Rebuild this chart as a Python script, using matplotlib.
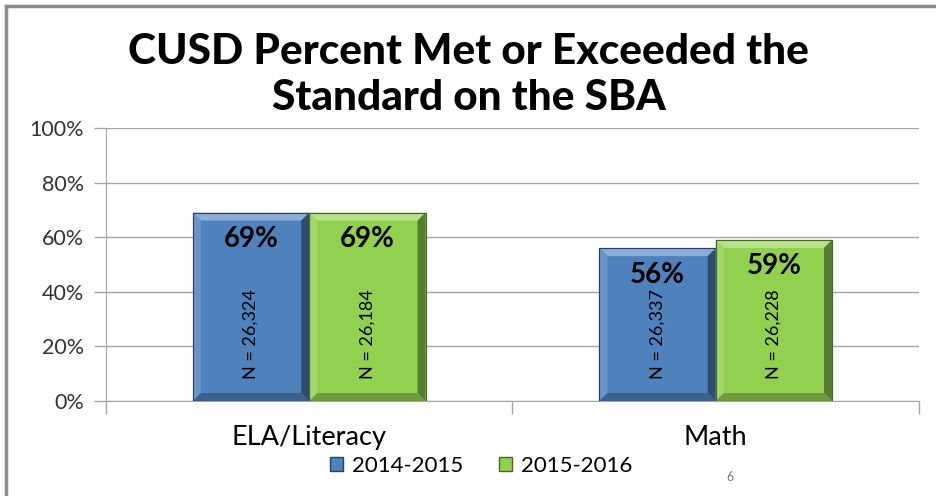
import numpy as np
import matplotlib
matplotlib.use("Agg")
import matplotlib.pyplot as plt
from matplotlib.patches import Polygon, Patch
from matplotlib.lines import Line2D
from matplotlib.colors import to_rgb

# data
categories = ["ELA/Literacy", "Math"]
years = ["2014-2015", "2015-2016"]
pct_2015 = [69, 56]
pct_2016 = [69, 59]
n_2015 = ["26,324", "26,337"]
n_2016 = ["26,184", "26,228"]
y_ticks = [0, 20, 40, 60, 80, 100]

colors = ["#4F81BD", "#92D050"]
font = ["Lato", "DejaVu Sans"]
plt.rcParams["font.family"] = font


def mix(c, other, t):
    c = np.array(to_rgb(c))
    o = np.array(to_rgb(other))
    return tuple(c * (1 - t) + o * t)


fig = plt.figure(figsize=(9.37, 4.96), dpi=100)
W, H = 937, 496
ax = fig.add_axes([106 / W, (H - 401) / H, 813 / W, 273 / H])

x = np.arange(len(categories))
bw = 0.286
series = [pct_2015, pct_2016]
labels_n = [n_2015, n_2016]

ax.set_xlim(-0.5, 1.5)
ax.set_ylim(0, 100)

all_bars = []
for i, vals in enumerate(series):
    bars = ax.bar(x + (i - 0.5) * bw, vals, bw, color=colors[i],
                  edgecolor=mix(colors[i], "black", 0.45), linewidth=0.8,
                  zorder=3, label=years[i])
    all_bars.append(bars)

# bevel edges computed from each bar's own extent
fig.canvas.draw()
to_disp = ax.transData
to_data = ax.transData.inverted()
bev = 8
for i, bars in enumerate(all_bars):
    c = colors[i]
    for b in bars:
        x0, y0 = b.get_x(), b.get_y()
        x1, y1 = x0 + b.get_width(), y0 + b.get_height()
        (dx0, dy0), (dx1, dy1) = to_disp.transform([(x0, y0), (x1, y1)])
        ix0, iy0, ix1, iy1 = dx0 + bev, dy0 + bev, dx1 - bev, dy1 - bev
        sides = [
            ([(dx0, dy1), (dx1, dy1), (ix1, iy1), (ix0, iy1)], mix(c, "white", 0.35)),
            ([(dx0, dy0), (dx0, dy1), (ix0, iy1), (ix0, iy0)], mix(c, "white", 0.15)),
            ([(dx1, dy0), (dx1, dy1), (ix1, iy1), (ix1, iy0)], mix(c, "black", 0.40)),
            ([(dx0, dy0), (dx1, dy0), (ix1, iy0), (ix0, iy0)], mix(c, "black", 0.25)),
        ]
        for pts, col in sides:
            ax.add_patch(Polygon(to_data.transform(pts), closed=True,
                                 facecolor=col, edgecolor="none", zorder=4))
        ax.add_patch(Polygon([(x0, y0), (x1, y0), (x1, y1), (x0, y1)], closed=True,
                             facecolor="none", edgecolor=mix(c, "black", 0.5),
                             linewidth=0.8, zorder=5))

# labels
for i, bars in enumerate(all_bars):
    for j, b in enumerate(bars):
        cx = b.get_x() + b.get_width() / 2
        ax.annotate(f"{series[i][j]}%", (cx, b.get_height()), xytext=(0, -19),
                    textcoords="offset points", ha="center", va="center",
                    fontsize=20, fontweight="bold", color="black", zorder=6)
        ax.text(cx, 24.5, f"N = {labels_n[i][j]}", rotation=90, ha="center",
                va="center", fontsize=13, color="black", zorder=6)

# axes styling
grid_c = "#A6A6A6"
ax.set_yticks(y_ticks)
ax.set_yticklabels([f"{v}%" for v in y_ticks], fontsize=15.5, color="#333333")
ax.yaxis.grid(True, color=grid_c, linewidth=1, zorder=0)
ax.set_axisbelow(True)
ax.set_xticks([-0.5, 0.5, 1.5])
ax.set_xticklabels([])
ax.set_xticks(x, minor=True)
ax.set_xticklabels(categories, minor=True, fontsize=19.5, color="black")
ax.tick_params(axis="x", which="minor", length=0, pad=17)
ax.tick_params(axis="x", which="major", length=9, color=grid_c, width=1)
ax.tick_params(axis="y", length=9, color=grid_c, width=1, pad=7)
for s in ["top", "right"]:
    ax.spines[s].set_visible(False)
for s in ["left", "bottom"]:
    ax.spines[s].set_color(grid_c)

# title
fig.text(0.5, 1 - 75 / H, "CUSD Percent Met or Exceeded the\nStandard on the SBA",
         ha="center", va="center", fontsize=30.5, fontweight="black",
         linespacing=1.28)

# legend
handles = [Patch(facecolor=colors[i], edgecolor=mix(colors[i], "black", 0.5),
                 label=years[i]) for i in range(2)]
fig.legend(handles=handles, loc="center", bbox_to_anchor=(481 / W, 1 - 466 / H),
           ncol=2, frameon=False, fontsize=16, handlelength=0.6,
           handleheight=0.6, handletextpad=0.4, columnspacing=1.6)

fig.text(730 / W, 1 - 477 / H, "6", fontsize=9, color="#777777",
         ha="center", va="center")

# slide frame
fig.add_artist(Line2D([6 / W, 6 / W], [0, 1 - 6 / H], color="#8C8C8C", linewidth=2.5))
fig.add_artist(Line2D([6 / W, 1], [1 - 6 / H, 1 - 6 / H], color="#8C8C8C", linewidth=2.5))

fig.savefig("out.png", dpi=100)
